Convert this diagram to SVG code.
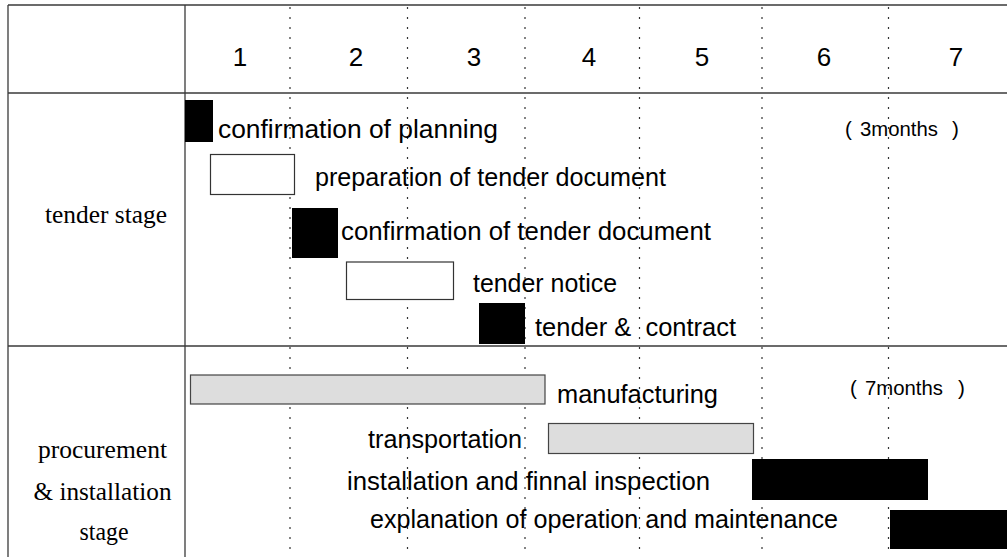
<svg xmlns="http://www.w3.org/2000/svg" width="1007" height="557" viewBox="0 0 1007 557">
<style>
.bg{fill:#ffffff}
.rule{stroke:#3a3a3a;stroke-width:1.3;fill:none}
.dot{stroke:#333;stroke-width:1.2;stroke-dasharray:2 8;fill:none}
.blk{fill:#000}
.wht{fill:#fff;stroke:#333;stroke-width:1.2}
.gry{fill:#dddddd;stroke:#444;stroke-width:1.2}
.sans{font-family:"Liberation Sans",Arial,sans-serif;font-size:25.5px;fill:#000}
.num{font-family:"Liberation Sans",Arial,sans-serif;font-size:26px;fill:#000;text-anchor:middle}
.small{font-family:"Liberation Sans",Arial,sans-serif;font-size:20.5px;fill:#000}
.serif{font-family:"Liberation Serif","Times New Roman",serif;font-size:24.5px;fill:#000}
</style>
<rect class="bg" x="0" y="0" width="1007" height="557"/>
<g id="grid">
  <line class="dot" x1="290" y1="7" x2="290" y2="557"/>
  <line class="dot" x1="407.5" y1="7" x2="407.5" y2="557"/>
  <line class="dot" x1="525" y1="7" x2="525" y2="557"/>
  <line class="dot" x1="639.5" y1="7" x2="639.5" y2="557"/>
  <line class="dot" x1="762" y1="7" x2="762" y2="557"/>
  <line class="dot" x1="888.5" y1="7" x2="888.5" y2="557"/>
  <line class="rule" x1="8" y1="5" x2="1007" y2="5"/>
  <line class="rule" x1="8" y1="93" x2="1007" y2="93"/>
  <line class="rule" x1="8" y1="346" x2="1007" y2="346"/>
  <line class="rule" x1="8" y1="5" x2="8" y2="557"/>
  <line class="rule" x1="185" y1="5" x2="185" y2="557"/>
</g>
<g id="header">
  <text class="num" x="240" y="66">1</text>
  <text class="num" x="356" y="66">2</text>
  <text class="num" x="474" y="66">3</text>
  <text class="num" x="589" y="66">4</text>
  <text class="num" x="702" y="66">5</text>
  <text class="num" x="824" y="66">6</text>
  <text class="num" x="956" y="66">7</text>
</g>
<g id="stage-tender">
  <text class="serif" x="45" y="223" textLength="122" lengthAdjust="spacingAndGlyphs">tender stage</text>
</g>
<g id="stage-procurement">
  <text class="serif" x="38" y="458" textLength="129" lengthAdjust="spacingAndGlyphs">procurement</text>
  <text class="serif" x="33.5" y="500" textLength="138" lengthAdjust="spacingAndGlyphs">&amp; installation</text>
  <text class="serif" x="79.5" y="540" textLength="49" lengthAdjust="spacingAndGlyphs">stage</text>
</g>
<g id="task-confirmation-planning">
  <rect class="blk" x="185" y="100" width="28" height="42"/>
  <text class="sans" x="218" y="138" textLength="280" lengthAdjust="spacingAndGlyphs">confirmation of planning</text>
</g>
<g id="note-3months">
  <text class="small" y="136"><tspan x="845">(</tspan><tspan x="860" textLength="78" lengthAdjust="spacingAndGlyphs">3months</tspan><tspan x="952">)</tspan></text>
</g>
<g id="task-preparation">
  <rect class="wht" x="210.5" y="154.5" width="84" height="40"/>
  <text class="sans" x="315" y="186" textLength="351" lengthAdjust="spacingAndGlyphs">preparation of tender document</text>
</g>
<g id="task-confirmation-tender">
  <rect class="blk" x="292" y="208" width="46" height="50"/>
  <text class="sans" x="341" y="240" textLength="370" lengthAdjust="spacingAndGlyphs">confirmation of tender document</text>
</g>
<g id="task-tender-notice">
  <rect class="wht" x="346.5" y="262" width="107" height="37.5"/>
  <text class="sans" x="473" y="292" textLength="144" lengthAdjust="spacingAndGlyphs">tender notice</text>
</g>
<g id="task-tender-contract">
  <rect class="blk" x="479" y="303" width="46" height="41"/>
  <text class="sans" x="535" y="336" textLength="201" lengthAdjust="spacingAndGlyphs" xml:space="preserve">tender &amp;  contract</text>
</g>
<g id="task-manufacturing">
  <rect class="gry" x="190.5" y="375" width="354.5" height="29"/>
  <text class="sans" x="557" y="403" textLength="161" lengthAdjust="spacingAndGlyphs">manufacturing</text>
</g>
<g id="note-7months">
  <text class="small" y="395"><tspan x="850">(</tspan><tspan x="865" textLength="78" lengthAdjust="spacingAndGlyphs">7months</tspan><tspan x="958">)</tspan></text>
</g>
<g id="task-transportation">
  <rect class="gry" x="548.5" y="423.5" width="205" height="30"/>
  <text class="sans" x="368" y="448" textLength="154" lengthAdjust="spacingAndGlyphs">transportation</text>
</g>
<g id="task-installation">
  <rect class="blk" x="752" y="459" width="176" height="41"/>
  <text class="sans" x="347" y="490" textLength="363" lengthAdjust="spacingAndGlyphs">installation and finnal inspection</text>
</g>
<g id="task-explanation">
  <rect class="blk" x="890" y="510" width="117" height="39"/>
  <text class="sans" x="370" y="528" textLength="468" lengthAdjust="spacingAndGlyphs">explanation of operation and maintenance</text>
</g>
<g id="connectors"/>
</svg>
